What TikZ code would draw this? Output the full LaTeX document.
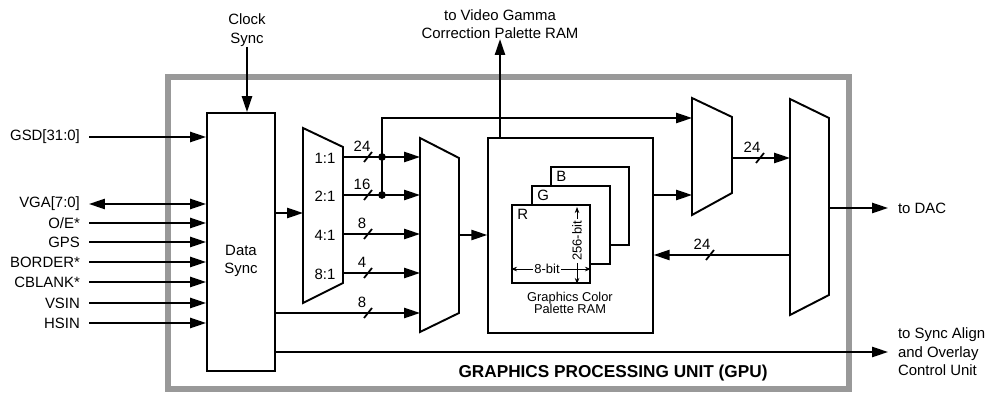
\documentclass[tikz,border=0pt]{standalone}
\usepackage{fontspec}
\setmainfont{Liberation Sans}
\usetikzlibrary{arrows.meta,positioning,calc}

\begin{document}
\begin{tikzpicture}[x=0.02cm, y=-0.02cm,
  every node/.style={font=\fontsize{8.5}{10.6}\selectfont, inner sep=0pt},
  sig/.style={anchor=east, inner xsep=5pt},
  outtxt/.style={anchor=west, inner xsep=5.5pt, align=left},
  blk/.style={draw, line width=1.1pt, fill=white},
  ram/.style={draw, line width=0.9pt, fill=white, minimum size=1.57cm},
  muxbox/.style={draw, line width=1.1pt, fill=white, line join=miter},
  wire/.style={line width=1pt},
  arr/.style={wire, -{Triangle[length=9pt,width=5.8pt]}},
  darr/.style={wire, {Triangle[length=9pt,width=5.8pt]}-{Triangle[length=9pt,width=5.8pt]}},
  dim/.style={line width=0.5pt, {Stealth[length=3.5pt,width=2.6pt]}-{Stealth[length=3.5pt,width=2.6pt]}},
  small/.style={font=\fontsize{7.4}{8}\selectfont},
  dot/.style={circle, fill, minimum size=4.4pt}
]
  \useasboundingbox (0,0) rectangle (987,394);

  % GPU border
  \draw[line width=3.4pt, black!40] (168,77) rectangle (849,389);
  \node[font=\fontsize{9.8}{12}\selectfont\bfseries] (gpu) at (613,373) {GRAPHICS PROCESSING UNIT (GPU)};

  % data sync
  \node[blk, minimum width=1.36cm, minimum height=5.16cm] (ds) at (241,242) {};
  \node[align=center] (dstxt) at (241,261) {Data\\Sync};
  \node[align=center] (ck) at (247,30) {Clock\\Sync};
  \draw[arr] (ck.south) -- (ck.south |- ds.north);

  % inputs
  \foreach \y/\txt/\nm in {137/GSD[31:0]/gsd, 223/{O/E*}/oe, 242/GPS/gps,
      262/BORDER*/bord, 282/CBLANK*/cbl, 303/VSIN/vsin, 323/HSIN/hsin} {
    \node[sig] (\nm) at (89,\y) {\txt};
    \draw[arr] (\nm.east) -- (\nm.east -| ds.west);
  }
  \node[sig] (vga) at (89,204) {VGA[7:0]};
  \draw[darr] (vga.east) -- (vga.east -| ds.west);

  % rate mux
  \draw[muxbox] (303,128) -- (343,147) -- (343,283) -- (303,303) -- cycle;
  \coordinate (m1in) at (303,213);
  \draw[arr] (ds.east |- m1in) -- (m1in);
  \foreach \y/\r/\w [count=\i] in {157/1:1/24, 195/2:1/16, 234/4:1/8, 273/8:1/4} {
    \node (rate\i) at (325,\y+1.5) {\r};
    \coordinate (m1o\i) at (343,\y);
    \coordinate (m2i\i) at (420,\y);
    \draw[arr] (m1o\i) -- (m2i\i);
    \draw[wire] (364,\y+5) -- (372,\y-5);
    \node (bw\i) at (362,\y-11) {\w};
  }
  \coordinate (m2i5) at (420,313);
  \draw[arr] (ds.east |- m2i5) -- (m2i5);
  \draw[wire] (364,318) -- (372,308);
  \node (bw5) at (362,302) {8};

  % bypass to output mux
  \node[dot] (j1) at (382,157) {};
  \node[dot] (j2) at (382,195) {};
  \coordinate (m3i1) at (692,118);
  \draw[arr] (j2.center) |- (m3i1);

  % select mux
  \draw[muxbox] (420,138) -- (459,158) -- (459,313) -- (420,332) -- cycle;

  % palette
  \node[draw, line width=0.9pt, fill=white, minimum width=3.3cm, minimum height=3.9cm] (pal) at (570.5,235.5) {};
  \coordinate (m2o) at (459,235);
  \draw[arr] (m2o) -- (m2o -| pal.west);
  \node[ram] (ramB) at (590,206) {};
  \node[ram] (ramG) at (571,225) {};
  \node[ram] (ramR) at (551,244) {};
  \foreach \c in {B,G,R} {
    \node[anchor=north west] (lbl\c) at ([shift={(6,5)}]ram\c.north west) {\c};
  }
  \draw[dim] ($(ramR.north east)+(-14,3)$) -- ($(ramR.south east)+(-14,0)$)
    node[pos=0.44, rotate=90, fill=white, inner sep=1pt, small] (dimv) {256-bit};
  \draw[dim] ($(ramR.south west)+(0,-15)$) -- ($(ramR.south east)+(0,-15)$)
    node[pos=0.45, fill=white, inner sep=1pt, small] (dimh) {8-bit};
  \node[align=center, font=\fontsize{7.3}{7}\selectfont] (paltxt) at (570,303) {Graphics Color\\Palette RAM};

  \node[align=center] (gam) at (500,24) {to Video Gamma\\Correction Palette RAM};
  \draw[arr] (gam.south |- pal.north) -- (gam.south);

  % output muxes
  \draw[muxbox] (692,98) -- (732,117) -- (732,193) -- (692,215) -- cycle;
  \draw[muxbox] (790,99) -- (829,118) -- (829,295) -- (790,315) -- cycle;
  \coordinate (m3i2) at (692,195);
  \draw[arr] (pal.east |- m3i2) -- (m3i2);
  \coordinate (m3o) at (732,158);
  \coordinate (m4i) at (790,158);
  \draw[arr] (m3o) -- (m4i);
  \draw[wire] (756,163) -- (764,153);
  \node (bw6) at (752,147) {24};
  \coordinate (m4r) at (790,255);
  \draw[arr] (m4r) -- (m4r -| pal.east);
  \draw[wire] (706,260) -- (714,250);
  \node (bw7) at (702,244) {24};

  % outputs
  \node[outtxt] (dac) at (888,208) {to DAC};
  \coordinate (m4o) at (829,208);
  \draw[arr] (m4o) -- (dac.west);
  \node[outtxt] (syn) at (888,352) {to Sync Align\\and Overlay\\Control Unit};
  \draw[arr] (ds.east |- syn.west) -- (syn.west);
\end{tikzpicture}
\end{document}
